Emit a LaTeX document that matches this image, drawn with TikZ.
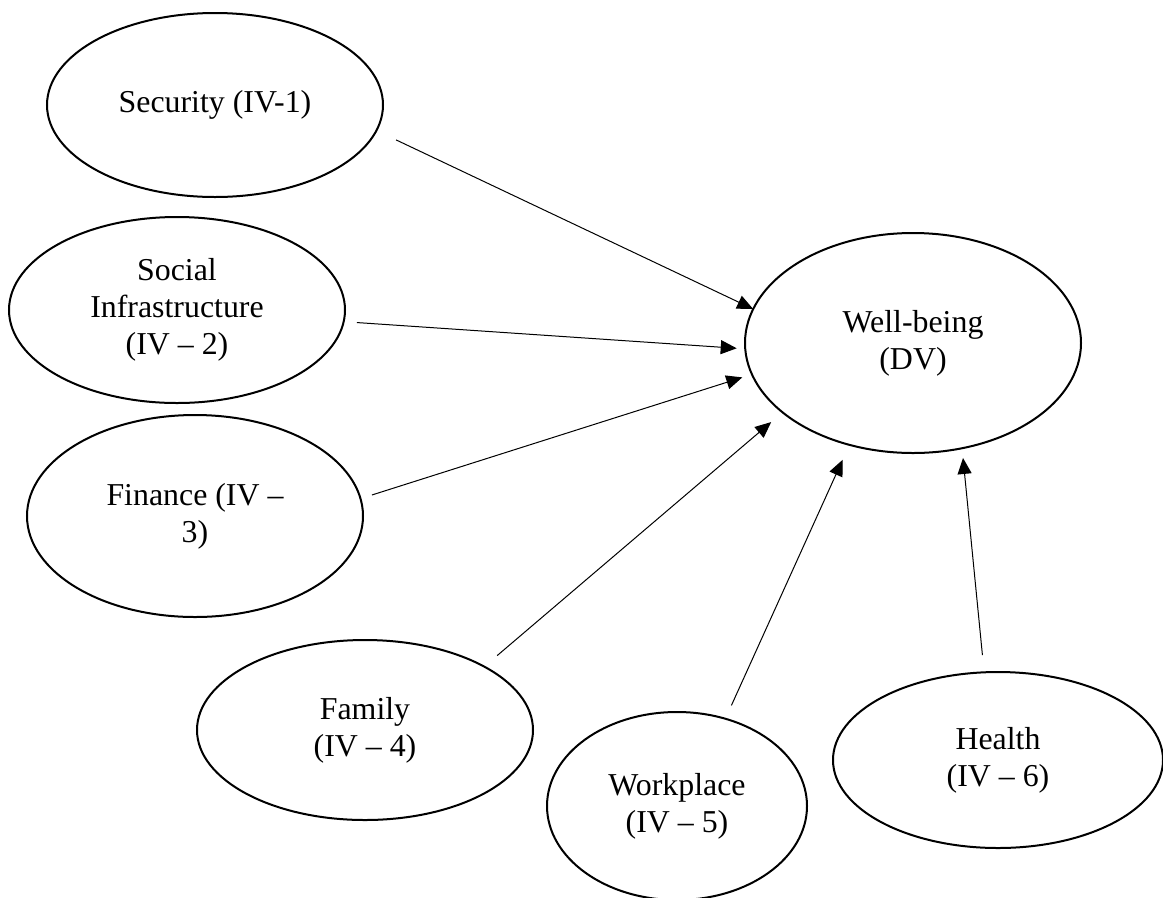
\documentclass[tikz,border=0pt]{standalone}
\usepackage{fontspec}
\setmainfont{Liberation Serif}
\usetikzlibrary{shapes.geometric,arrows.meta}
\tikzset{
  var/.style={draw, ellipse, line width=1.5pt, inner sep=0pt, outer sep=0pt, align=center,
    font=\fontsize{23.9}{27.75}\selectfont},
  arr/.style={line width=0.75pt, -{Triangle[length=12pt,width=10.5pt]}}
}
\begin{document}
\begin{tikzpicture}[x=0.75pt, y=-0.75pt]
			\useasboundingbox (0,0) rectangle (1163,897);
			\node[var, minimum width=252pt, minimum height=138pt] (sec) at (215,105) {Security (IV-1)};
			\node[var, minimum width=252pt, minimum height=139.5pt] (soc) at (177,310) {Social\\Infrastructure\\(IV -- 2)};
			\node[var, minimum width=252pt, minimum height=151.5pt] (fin) at (195,516) {Finance (IV --\\3)};
			\node[var, minimum width=252pt, minimum height=135pt] (fam) at (365,730) {Family\\(IV -- 4)};
			\node[var, minimum width=195pt, minimum height=141pt] (wrk) at (677,806) {Workplace\\(IV -- 5)};
			\node[var, minimum width=247.5pt, minimum height=132pt] (hlt) at (998,760) {Health\\(IV -- 6)};
			\node[var, minimum width=252pt, minimum height=165pt] (wb) at (913,343) {Well-being\\(DV)};
			\draw[arr, shorten <=16.4pt] (sec.-9.8) -- (wb.168.3);
			\draw[arr, shorten <=10pt, shorten >=6.4pt] (soc.-4.1) -- (wb.182.9);
			\draw[arr, shorten <=9pt, shorten >=7.6pt] (fin.6) -- (wb.191.6);
			\draw[arr, shorten <=12.75pt, shorten >=11.25pt] (fam.28.5) -- (wb.208.5);
			\draw[arr, shorten <=11pt, shorten >=12.4pt] (wrk.61.9) -- (wb.238.3);
			\draw[arr, shorten <=13pt, shorten >=7.35pt] (hlt.99.3) -- (wb.-65);
		\end{tikzpicture}
\end{document}
